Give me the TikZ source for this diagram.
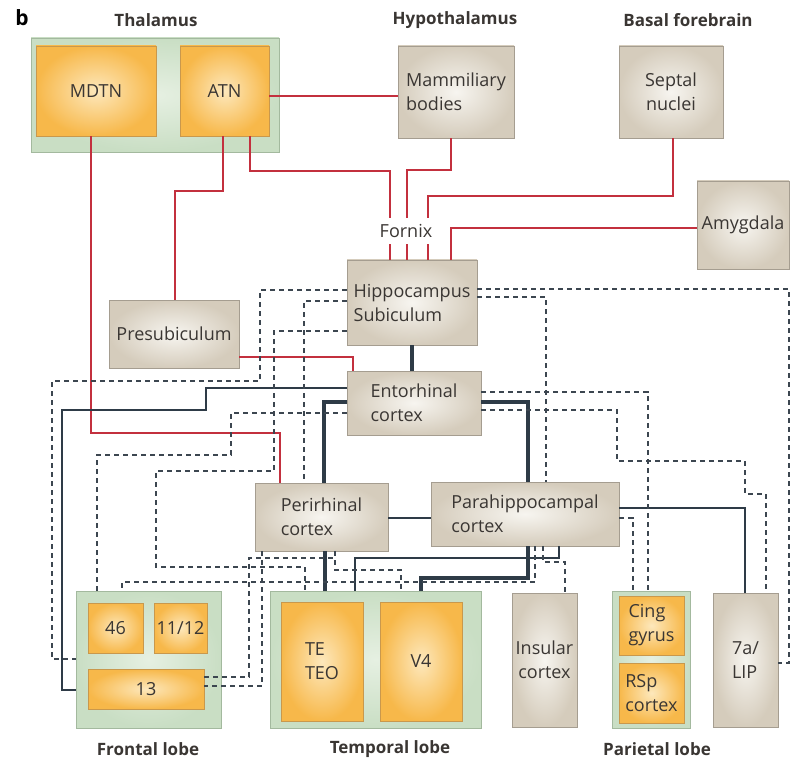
\documentclass[tikz,border=0pt]{standalone}
\usepackage{fontspec}
\setmainfont{Open Sans}
\definecolor{redl}{HTML}{C3303E}
\definecolor{darkl}{HTML}{2E3B47}
\definecolor{dashl}{HTML}{3C4650}
\definecolor{txt}{HTML}{3A3633}
\definecolor{grpb}{HTML}{A3B99E}
\definecolor{grpi}{HTML}{E6F0E2}
\definecolor{grpo}{HTML}{C9DEC4}
\definecolor{beigeb}{HTML}{A59D90}
\definecolor{beigei}{HTML}{F7F5F0}
\definecolor{beigeo}{HTML}{D5CCBC}
\definecolor{orb}{HTML}{C9984C}
\definecolor{ori}{HTML}{FDE8BC}
\definecolor{oro}{HTML}{F7B84A}
\tikzset{
  bx/.style={rectangle, inner sep=1pt, font=\fontsize{18}{24}\selectfont, text=txt, line width=0.8pt, align=center},
  beige/.style={bx, draw=beigeb, inner color=beigei, outer color=beigeo},
  orange/.style={bx, draw=orb, inner color=ori, outer color=oro},
  grp/.style={rectangle, draw=grpb, line width=0.8pt, inner color=grpi, outer color=grpo},
  ttl/.style={font=\bfseries\fontsize{17}{20}\selectfont, text=txt},
  redline/.style={draw=redl, line width=1.8pt},
  thinline/.style={draw=darkl, line width=1.8pt},
  thickline/.style={draw=darkl, line width=3.6pt},
  dashline/.style={draw=dashl, line width=2pt, dash pattern=on 5pt off 4pt},
}
\begin{document}
\begin{tikzpicture}[x=1pt,y=-1pt]
\useasboundingbox (0,0) rectangle (790,762);

% titles
\node[font=\bfseries\fontsize{21}{22}\selectfont, text=black] (tb) at (22,18) {b};
\node[ttl] (tthal) at (156,20) {Thalamus};
\node[ttl] (thyp) at (455,20) {Hypothalamus};
\node[ttl] (tbas) at (688,20) {Basal forebrain};
\node[ttl] (tfro) at (148,749) {Frontal lobe};
\node[ttl] (ttem) at (390,749) {Temporal lobe};
\node[ttl] (tpar) at (657,749) {Parietal lobe};

% groups
\node[grp, minimum width=248pt, minimum height=114pt] (thal) at (155,95) {};
\node[grp, minimum width=145pt, minimum height=137pt] (front) at (148.5,659.5) {};
\node[grp, minimum width=211pt, minimum height=137pt] (temp) at (375.5,659.5) {};
\node[grp, minimum width=78pt, minimum height=137pt] (pari) at (651,659.5) {};

% boxes
\node[orange, minimum width=120pt, minimum height=90pt] (mdtn) at (96,91) {MDTN};
\node[orange, minimum width=89pt, minimum height=90pt] (atn) at (224.5,91) {ATN};
\node[beige, minimum width=116pt, minimum height=92pt, align=left] (mam) at (456,92) {Mammiliary\\bodies};
\node[beige, minimum width=104pt, minimum height=92pt] (sep) at (671,92) {Septal\\nuclei};
\node[beige, minimum width=92pt, minimum height=88pt] (amy) at (743,225) {Amygdala};
\node[beige, minimum width=130pt, minimum height=85pt, align=left] (hip) at (412,302.5) {Hippocampus\\Subiculum};
\node[beige, minimum width=130pt, minimum height=68pt] (pre) at (174,334) {Presubiculum};
\node[beige, minimum width=134pt, minimum height=64pt, align=left] (ent) at (414,403) {Entorhinal\\cortex};
\node[beige, minimum width=133pt, minimum height=68pt, align=left] (per) at (321.5,517) {Perirhinal\\cortex};
\node[beige, minimum width=188pt, minimum height=64pt, align=left] (par) at (525,514) {Parahippocampal\\cortex};
\node[orange, minimum width=55pt, minimum height=50pt] (a46) at (115.5,628) {46};
\node[orange, minimum width=53pt, minimum height=50pt] (a1112) at (180.5,628) {11/12};
\node[orange, minimum width=116pt, minimum height=40pt] (a13) at (146,689) {13};
\node[orange, minimum width=82pt, minimum height=119pt, align=left] (te) at (322,661.5) {TE\\TEO};
\node[orange, minimum width=82pt, minimum height=119pt] (v4) at (421,661.5) {V4};
\node[beige, minimum width=65pt, minimum height=134pt] (ins) at (544.5,660) {Insular\\cortex};
\node[orange, minimum width=65pt, minimum height=59pt, align=left] (cing) at (651.5,625.5) {Cing\\gyrus};
\node[orange, minimum width=65pt, minimum height=60pt, align=left] (rsp) at (651.5,693) {RSp\\cortex};
\node[beige, minimum width=65pt, minimum height=134pt, align=left] (lip) at (745.5,660) {7a/\\LIP};

% red connections
\draw[redline] (atn.east |- 0,96) -- (mam.west |- 0,96);
\draw[redline] (atn.south -| 250,0) |- (390,171) -- (hip.north -| 390,0);
\draw[redline] (mam.south -| 451,0) |- (407,170) -- (hip.north -| 407,0);
\draw[redline] (sep.south -| 673,0) |- (428,196) -- (hip.north -| 428,0);
\draw[redline] (amy.west |- 0,228) -| (hip.north -| 451,0);
\draw[redline] (atn.south -| 223,0) |- (175,191) -- (pre.north -| 175,0);
\draw[redline] (mdtn.south -| 91,0) |- (280,433) -- (per.north -| 280,0);
\draw[redline] (pre.east |- 0,357) -| (ent.north -| 353,0);

% solid dark connections
\draw[thickline] (hip.south -| 412,0) -- (ent.north -| 412,0);
\draw[thinline] (ent.west |- 0,388) -- (206,388) -- (206,410) -- (62,410) -- (62,690) -- (front.west |- 0,690);
\draw[thickline] (ent.west |- 0,402) -| (per.north -| 324,0);
\draw[thickline] (ent.east |- 0,402) -| (par.north -| 528,0);
\draw[thinline] (per.east |- 0,518) -- (par.west |- 0,518);
\draw[thinline] (par.east |- 0,508) -| (lip.north -| 745,0);
\draw[thickline] (per.south -| 325,0) -- (temp.north -| 325,0);
\draw[thickline] (par.south -| 528,0) |- (421,578) -- (temp.north -| 421,0);
\draw[thinline] (par.south -| 559,0) |- (355,558) -- (temp.north -| 355,0);

% dashed connections
\draw[dashline] (hip.west |- 0,290) -- (260,290) -- (260,381) -- (52,381) -- (52,659) -- (front.west |- 0,659);
\draw[dashline] (hip.west |- 0,301) -| (per.north -| 304,0);
\draw[dashline] (hip.west |- 0,331) -- (274,331) -- (274,471) -- (156,471) -- (156,567) -- (305,567) -- (temp.north -| 305,0);
\draw[dashline] (ent.west |- 0,413) -- (231,413) -- (231,455) -- (97,455) -- (front.north -| 97,0);
\draw[dashline] (hip.east |- 0,289) -- (789,289) -- (789,663) -- (lip.east |- 0,663);
\draw[dashline] (hip.east |- 0,297) -| (par.north -| 546,0);
\draw[dashline] (ent.east |- 0,392) -| (pari.north -| 648,0);
\draw[dashline] (ent.east |- 0,410) -- (617,410) -- (617,461) -- (745,461) -- (745,494) -- (766,494) -- (lip.north -| 766,0);
\draw[dashline] (par.east |- 0,518) -| (pari.north -| 633,0);
\draw[dashline] (par.south -| 543,0) |- (565,562) -- (ins.north -| 565,0);
\draw[dashline] (par.south -| 535,0) |- (122,582) -- (front.north -| 122,0);
\draw[dashline] (per.south -| 262,0) |- (a13.east |- 0,686);
\draw[dashline] (per.south -| 335,0) -- (335,570) -- (401,570) -- (temp.north -| 401,0);
\draw[dashline] (per.south -| 335,0) |- (249,558) |- (a13.east |- 0,677);

% fornix label
\node[bx, fill=white, inner xsep=2pt, minimum height=26pt] (fornix) at (406,231) {Fornix};
\end{tikzpicture}
\end{document}
